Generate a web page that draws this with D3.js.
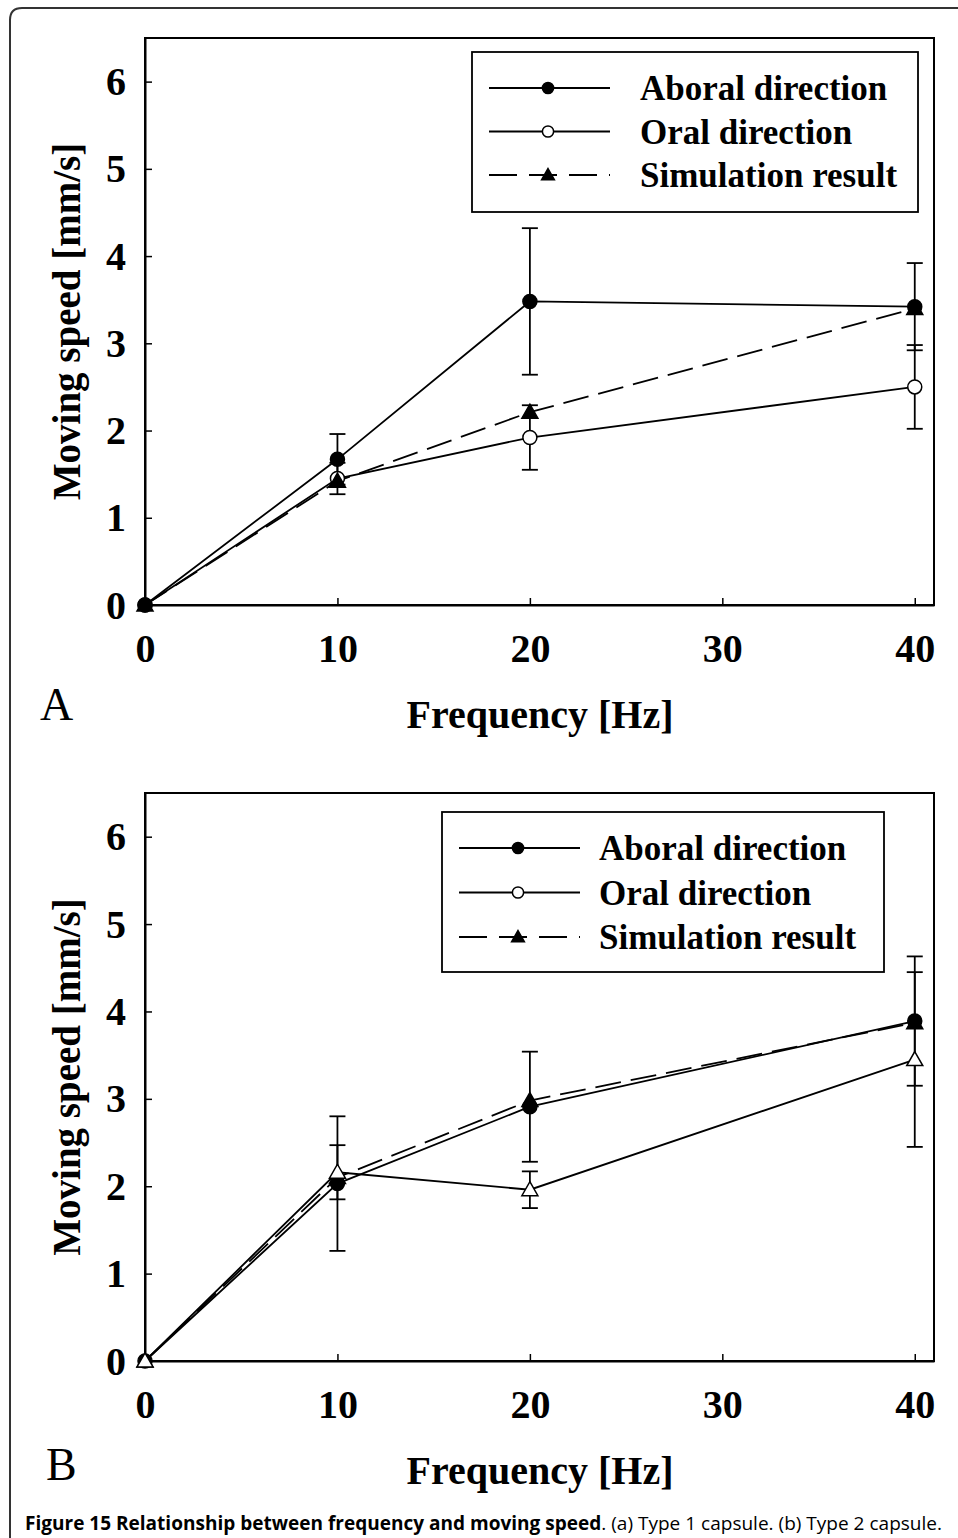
<!DOCTYPE html>
<html><head><meta charset="utf-8">
<script src="https://cdn.jsdelivr.net/npm/d3@7"></script>
<style>body{margin:0;background:#fff}svg{display:block}</style>
</head><body>
<script>
// ---- data ----
const freq = [0, 10, 20, 40];
const xTicks = [0, 10, 20, 30, 40];
const yTicks = [0, 1, 2, 3, 4, 5, 6];
const seriesNames = ["Aboral direction", "Oral direction", "Simulation result"];

const aAboral = [0, 1.67, 3.48, 3.42];
const aAboralErr = [0, 0.29, 0.84, 0.50];
const aOral = [0, 1.45, 1.92, 2.50];
const aOralErr = [0, 0.18, 0.37, 0.48];
const aSim = [0, 1.42, 2.21, 3.40];

const bAboral = [0, 2.03, 2.91, 3.89];
const bAboralErr = [0, 0.77, 0.63, 0.74];
const bOral = [0, 2.16, 1.96, 3.45];
const bOralErr = [0, 0.31, 0.21, 1.00];
const bSim = [0, 2.10, 2.98, 3.87];

const W = 958, H = 1538;
const svg = d3.select("body").append("svg").attr("width", W).attr("height", H);
const serif = "'Liberation Serif','Times New Roman',serif";

// outer rounded border
svg.append("path").attr("d", "M10,1540 L10,20 Q10,8 22,8 L962,8")
  .attr("fill", "none").attr("stroke", "#333").attr("stroke-width", 2);

function panel(cfg) {
  const x = d3.scaleLinear().domain([0, 41]).range([145, 934]);
  const y = d3.scaleLinear().domain([0, 6.5]).range([cfg.bottom, cfg.top]);
  const g = svg.append("g");

  // frame
  g.append("rect").attr("x", 145).attr("y", cfg.top).attr("width", 934 - 145).attr("height", cfg.bottom - cfg.top)
    .attr("fill", "none").attr("stroke", "#000").attr("stroke-width", 2);

  const xa = g.append("g").attr("transform", `translate(0,${cfg.bottom})`)
    .call(d3.axisBottom(x).tickValues(xTicks).tickFormat(d3.format("d")).tickSizeInner(-7).tickSizeOuter(0));
  xa.select(".domain").attr("stroke-width", 2);
  xa.selectAll(".tick line").attr("stroke-width", 1.5);
  xa.selectAll("text").attr("font-family", serif).attr("font-weight", "bold").attr("font-size", 40).attr("fill", "#000")
    .attr("y", 57).attr("dy", 0);

  const ya = g.append("g").attr("transform", `translate(145,0)`)
    .call(d3.axisLeft(y).tickValues(yTicks).tickFormat(d3.format("d")).tickSizeInner(-7).tickSizeOuter(0).tickPadding(19));
  ya.select(".domain").attr("stroke-width", 2);
  ya.selectAll(".tick line").attr("stroke-width", 1.5);
  ya.selectAll("text").attr("font-family", serif).attr("font-weight", "bold").attr("font-size", 40).attr("fill", "#000")
    .attr("dy", 13);

  // axis titles
  g.append("text").attr("x", 540).attr("y", cfg.bottom + 123).attr("text-anchor", "middle")
    .attr("font-family", serif).attr("font-weight", "bold").attr("font-size", 40).text("Frequency [Hz]");
  g.append("text").attr("transform", `translate(80,${(cfg.top + cfg.bottom) / 2}) rotate(-90)`).attr("text-anchor", "middle")
    .attr("font-family", serif).attr("font-weight", "bold").attr("font-size", 39).text("Moving speed [mm/s]");
  g.append("text").attr("x", cfg.labelX).attr("y", cfg.bottom + cfg.labelDy).attr("font-family", serif)
    .attr("font-size", 46).text(cfg.label);

  const line = d3.line().x((d, i) => x(freq[i])).y(d => y(d));

  const series = {
    aboral: { v: cfg.aboral, e: cfg.aboralErr, dash: null, marker: "dot" },
    oral: { v: cfg.oral, e: cfg.oralErr, dash: null, marker: cfg.oralMarker },
    sim: { v: cfg.sim, e: null, dash: "26,10", marker: "tri" }
  };

  // lines
  Object.values(series).forEach(s => {
    g.append("path").datum(s.v).attr("d", line).attr("fill", "none").attr("stroke", "#000")
      .attr("stroke-width", 1.8).attr("stroke-dasharray", s.dash);
  });
  // error bars
  Object.values(series).forEach(s => {
    if (!s.e) return;
    s.v.forEach((v, i) => {
      if (!s.e[i]) return;
      const cx = x(freq[i]), y1 = y(v + s.e[i]), y2 = y(v - s.e[i]);
      g.append("line").attr("x1", cx).attr("x2", cx).attr("y1", y1).attr("y2", y2).attr("stroke", "#000").attr("stroke-width", 1.8);
      [y1, y2].forEach(yy => g.append("line").attr("x1", cx - 8).attr("x2", cx + 8).attr("y1", yy).attr("y2", yy)
        .attr("stroke", "#000").attr("stroke-width", 1.8));
    });
  });
  // markers
  cfg.order.forEach(k => {
    const s = series[k];
    s.v.forEach((v, i) => drawMarker(g, s.marker, x(freq[i]), y(v)));
  });

  // legend
  const L = cfg.legend;
  g.append("rect").attr("x", L.x).attr("y", L.y).attr("width", L.w).attr("height", L.h)
    .attr("fill", "#fff").attr("stroke", "#000").attr("stroke-width", 1.8);
  const legMarkers = ["dot", "odot", "tri"];
  const legDash = [null, null, "28,12"];
  seriesNames.forEach((n, i) => {
    const yy = L.y + L.first + i * L.step;
    g.append("line").attr("x1", L.x + 17).attr("x2", L.x + 138).attr("y1", yy).attr("y2", yy)
      .attr("stroke", "#000").attr("stroke-width", 1.8).attr("stroke-dasharray", legDash[i]);
    drawMarker(g, legMarkers[i], L.x + 76, yy, 0.8);
    g.append("text").attr("x", L.x + L.tx).attr("y", yy + 12).attr("font-family", serif).attr("font-weight", "bold")
      .attr("font-size", 35).text(n);
  });
}

function drawMarker(g, type, cx, cy, s = 1) {
  if (type === "dot" || type === "odot") {
    g.append("circle").attr("cx", cx).attr("cy", cy).attr("r", 7 * s)
      .attr("fill", type === "dot" ? "#000" : "#fff").attr("stroke", "#000").attr("stroke-width", 1.5);
  } else {
    const r = 8 * s;
    g.append("path").attr("d", `M${cx},${cy - r} L${cx + r},${cy + r * 0.75} L${cx - r},${cy + r * 0.75} Z`)
      .attr("fill", type === "tri" ? "#000" : "#fff").attr("stroke", "#000").attr("stroke-width", 1.5);
  }
}

panel({
  top: 38, bottom: 605, label: "A", labelX: 40, labelDy: 115,
  aboral: aAboral, aboralErr: aAboralErr, oral: aOral, oralErr: aOralErr, sim: aSim,
  oralMarker: "odot", order: ["oral", "sim", "aboral"],
  legend: { x: 472, y: 52, w: 446, h: 160, first: 36, step: 43.5, tx: 168 }
});
panel({
  top: 793, bottom: 1361, label: "B", labelX: 46, labelDy: 119,
  aboral: bAboral, aboralErr: bAboralErr, oral: bOral, oralErr: bOralErr, sim: bSim,
  oralMarker: "otri", order: ["aboral", "sim", "oral"],
  legend: { x: 442, y: 812, w: 442, h: 160, first: 36, step: 44.5, tx: 157 }
});

// caption
const cap = svg.append("text").attr("x", 25).attr("y", 1530).attr("font-family", "'Open Sans',sans-serif")
  .attr("font-size", 19).attr("textLength", 917).attr("lengthAdjust", "spacingAndGlyphs");
cap.append("tspan").attr("font-weight", "bold").text("Figure 15 Relationship between frequency and moving speed");
cap.append("tspan").text(". (a) Type 1 capsule. (b) Type 2 capsule.");
</script>
</body></html>
